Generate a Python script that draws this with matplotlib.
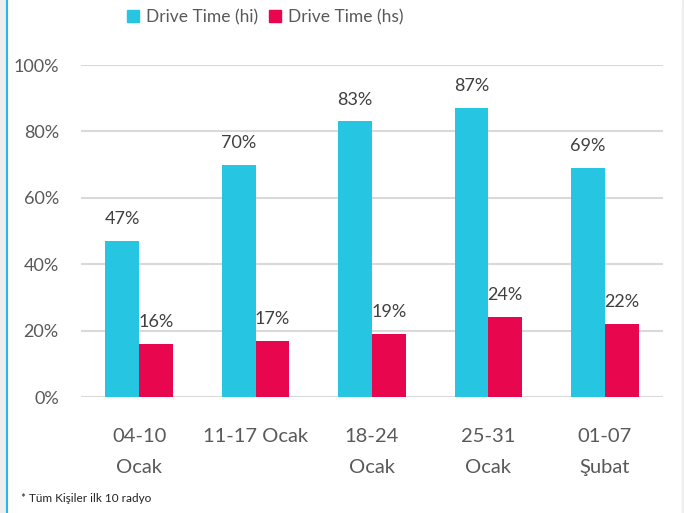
import matplotlib
matplotlib.use("Agg")
import matplotlib.pyplot as plt
import numpy as np
from matplotlib.patches import Rectangle
from matplotlib.lines import Line2D

categories = ["04-10\nOcak", "11-17 Ocak", "18-24\nOcak", "25-31\nOcak", "01-07\nŞubat"]
hi_values = [47, 70, 83, 87, 69]
hs_values = [16, 17, 19, 24, 22]
series_names = ["Drive Time (hi)", "Drive Time (hs)"]
yticks = [0, 20, 40, 60, 80, 100]
footnote = "* Tüm Kişiler ilk 10 radyo"

BLUE = "#26C6E3"
RED = "#E8064F"
TXT = "#595959"
LBL = "#404040"

plt.rcParams['font.family'] = ['Lato', 'DejaVu Sans']

fig = plt.figure(figsize=(6.84, 5.13), dpi=100)
ax = fig.add_axes([81/684, 1-397/513, (663-81)/684, (397-65)/513])

x = np.arange(len(categories))
w = 0.29
b1 = ax.bar(x - w/2, hi_values, w, color=BLUE, zorder=3)
b2 = ax.bar(x + w/2, hs_values, w, color=RED, zorder=3)

for bars, vals in ((b1, hi_values), (b2, hs_values)):
    for r, v in zip(bars, vals):
        ax.annotate(f"{v}%", (r.get_x() + r.get_width()/2, v), xytext=(0, 10),
                    textcoords="offset points", ha="center", va="bottom",
                    fontsize=13, color=LBL)

ax.set_xlim(-0.5, len(categories) - 0.5)
ax.set_ylim(0, 100)
ax.set_yticks(yticks)
ax.set_yticklabels([f"{t}%" for t in yticks], fontsize=13, color=TXT)
ax.set_xticks(x)
ax.set_xticklabels(categories, fontsize=14.5, color=TXT, linespacing=2.0)
ax.tick_params(axis='both', length=0)
ax.tick_params(axis='y', pad=16)
ax.tick_params(axis='x', pad=22)
ax.grid(axis='y', color="#D9D9D9", linewidth=1.5, zorder=0)
for s in ax.spines.values():
    s.set_visible(False)

handles = [Rectangle((0, 0), 1, 1, color=BLUE), Rectangle((0, 0), 1, 1, color=RED)]
fig.legend(handles, series_names, loc="center", bbox_to_anchor=(265/684, 1-17/513),
           ncol=2, frameon=False, fontsize=12.5, handlelength=0.7, handleheight=0.7,
           handletextpad=0.4, columnspacing=0.6, labelcolor=TXT)

fig.text(21/684, 1-498/513, footnote, fontsize=8.5, color="#222222", va="center", ha="left")

# frame decoration
fig.patches.append(Rectangle((0, 0), 5/684, 1, transform=fig.transFigure,
                             color="#EEEEEE", zorder=0))
fig.patches.append(Rectangle((682/684, 0), 2/684, 1, transform=fig.transFigure,
                             color="#EEEEEE", zorder=0))
fig.add_artist(Line2D([6.5/684, 6.5/684], [0, 1], transform=fig.transFigure,
                      color="#29B6F0", linewidth=1.5))

fig.savefig("out.png", dpi=100)
